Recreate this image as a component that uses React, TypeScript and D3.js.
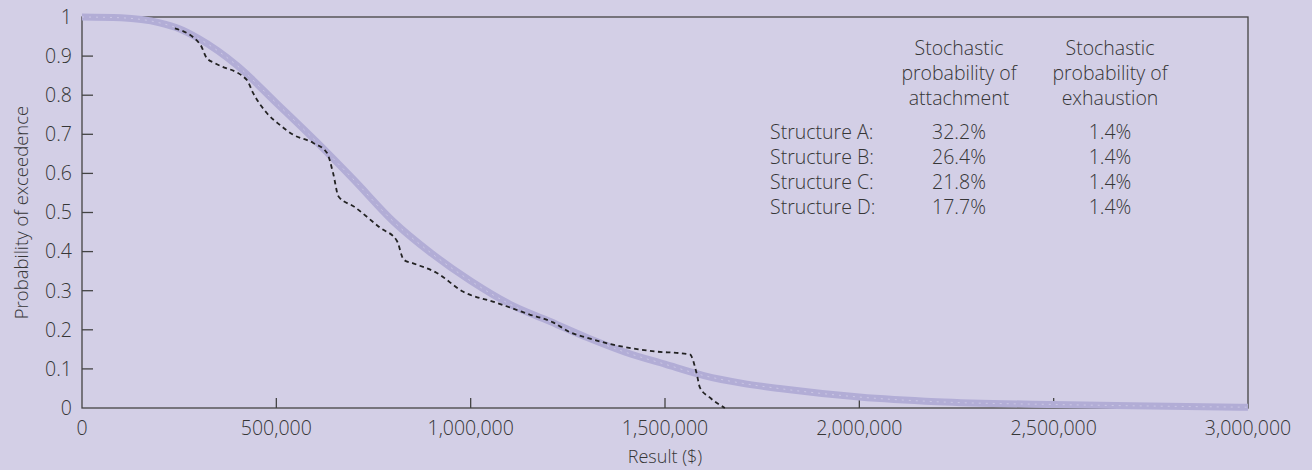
import { useEffect } from "react";
import * as d3 from "d3";

// smooth (simulated) exceedence curve
const simLoss = [0, 100000, 200000, 250000, 300000, 400000, 500000, 600000, 700000, 800000, 900000, 1000000, 1100000, 1200000, 1300000, 1400000, 1500000, 1600000, 1700000, 1800000, 2000000, 2200000, 2500000, 2750000, 3000000];
const simProb = [1.0, 0.998, 0.985, 0.97, 0.945, 0.875, 0.78, 0.684, 0.583, 0.478, 0.395, 0.325, 0.266, 0.223, 0.18, 0.142, 0.112, 0.083, 0.063, 0.049, 0.028, 0.016, 0.009, 0.005, 0.002];

// historical (dashed) curve
const histLoss = [239000, 304000, 321000, 342000, 424000, 440000, 475000, 509000, 543000, 595000, 630000, 646000, 660000, 700000, 767000, 810000, 828000, 852000, 912000, 980000, 1067000, 1152000, 1212000, 1255000, 1298000, 1366000, 1461000, 1564000, 1581000, 1590000, 1615000, 1654000];
const histProb = [0.971, 0.93, 0.895, 0.882, 0.839, 0.806, 0.755, 0.724, 0.699, 0.678, 0.653, 0.601, 0.541, 0.515, 0.461, 0.428, 0.379, 0.37, 0.346, 0.298, 0.269, 0.239, 0.219, 0.194, 0.18, 0.162, 0.146, 0.137, 0.09, 0.052, 0.027, 0];

const structures = ["Structure A:", "Structure B:", "Structure C:", "Structure D:"];
const attachment = ["32.2%", "26.4%", "21.8%", "17.7%"];
const exhaustion = ["1.4%", "1.4%", "1.4%", "1.4%"];
const attachHeader = ["Stochastic", "probability of", "attachment"];
const exhaustHeader = ["Stochastic", "probability of", "exhaustion"];

const xTicks = [0, 500000, 1000000, 1500000, 2000000, 2500000, 3000000];
const yTicks = [0, 0.1, 0.2, 0.3, 0.4, 0.5, 0.6, 0.7, 0.8, 0.9, 1];

const W = 1312;
const H = 470;
const FONT = "'Open Sans', sans-serif";
const INK = "#363636";
const FS = 19.5;

function App() {
  useEffect(() => {
    document.body.style.margin = "0";
  }, []);

  const x = d3.scaleLinear().domain([0, 3000000]).range([82, 1248]);
  const y = d3.scaleLinear().domain([0, 1]).range([408, 17]);

  const line = d3.line<[number, number]>()
    .x((d) => x(d[0]))
    .y((d) => y(d[1]))
    .curve(d3.curveMonotoneX);

  const sim: [number, number][] = simLoss.map((v, i) => [v, simProb[i]]);
  const hist: [number, number][] = histLoss.map((v, i) => [v, histProb[i]]);

  const fmt = (v: number) => (v === 0 ? "0" : d3.format(",")(v));
  const fmtY = (v: number) => (v === 0 || v === 1 ? String(v) : d3.format(".1f")(v));

  const rowY = [132, 157, 182, 207];
  const headY = [48, 73, 98];

  return (
    <svg width={W} height={H} style={{ display: "block", background: "#d3cfe6" }} fontFamily={FONT} fontWeight={300}>
      <rect x={0} y={0} width={W} height={H} fill="#d3cfe6" />

      {/* frame */}
      <rect x={x(0)} y={y(1)} width={x(3000000) - x(0)} height={y(0) - y(1)} fill="none" stroke="#444" strokeWidth={1.3} />

      {/* y ticks, drawn inward */}
      {yTicks.map((t) => (
        <g key={`yt-${t}`}>
          {t > 0 && t < 1 && <line x1={x(0)} x2={x(0) + 11} y1={y(t)} y2={y(t)} stroke="#444" strokeWidth={1.3} />}
          <text x={72} y={y(t)} dy="0.35em" textAnchor="end" fontSize={FS} fill={INK}>{fmtY(t)}</text>
        </g>
      ))}

      {/* x ticks, drawn inward */}
      {xTicks.map((t) => (
        <g key={`xt-${t}`}>
          {t > 0 && t < 3000000 && <line x1={x(t)} x2={x(t)} y1={y(0)} y2={y(0) - 10} stroke="#444" strokeWidth={1.3} />}
          <text x={x(t)} y={435} textAnchor="middle" fontSize={FS} fill={INK}>{fmt(t)}</text>
        </g>
      ))}

      {/* simulated curve */}
      <path d={line(sim) ?? ""} fill="none" stroke="#b2add6" strokeWidth={7} strokeLinecap="butt" />
      <path d={line(sim) ?? ""} fill="none" stroke="#dcd9ee" strokeWidth={0.8} strokeDasharray="2 5" opacity={0.7} />

      {/* historical curve */}
      <path d={line(hist) ?? ""} fill="none" stroke="#222" strokeWidth={1.8} strokeDasharray="4.5 3.5" />

      {/* table */}
      {attachHeader.map((s, i) => (
        <text key={`ah-${i}`} x={959} y={headY[i]} dy="0.35em" textAnchor="middle" fontSize={FS} fill={INK}>{s}</text>
      ))}
      {exhaustHeader.map((s, i) => (
        <text key={`eh-${i}`} x={1110} y={headY[i]} dy="0.35em" textAnchor="middle" fontSize={FS} fill={INK}>{s}</text>
      ))}
      {structures.map((s, i) => (
        <g key={`row-${i}`}>
          <text x={770} y={rowY[i]} dy="0.35em" fontSize={FS} fill={INK}>{s}</text>
          <text x={959} y={rowY[i]} dy="0.35em" textAnchor="middle" fontSize={FS} fill={INK}>{attachment[i]}</text>
          <text x={1110} y={rowY[i]} dy="0.35em" textAnchor="middle" fontSize={FS} fill={INK}>{exhaustion[i]}</text>
        </g>
      ))}

      {/* axis titles */}
      <text x={665} y={463} textAnchor="middle" fontSize={18} fill={INK}>Result ($)</text>
      <text transform={`translate(22,${(y(0) + y(1)) / 2}) rotate(-90)`} textAnchor="middle" dy="0.35em" fontSize={18.5} fill={INK}>Probability of exceedence</text>
    </svg>
  );
}

export default App;
